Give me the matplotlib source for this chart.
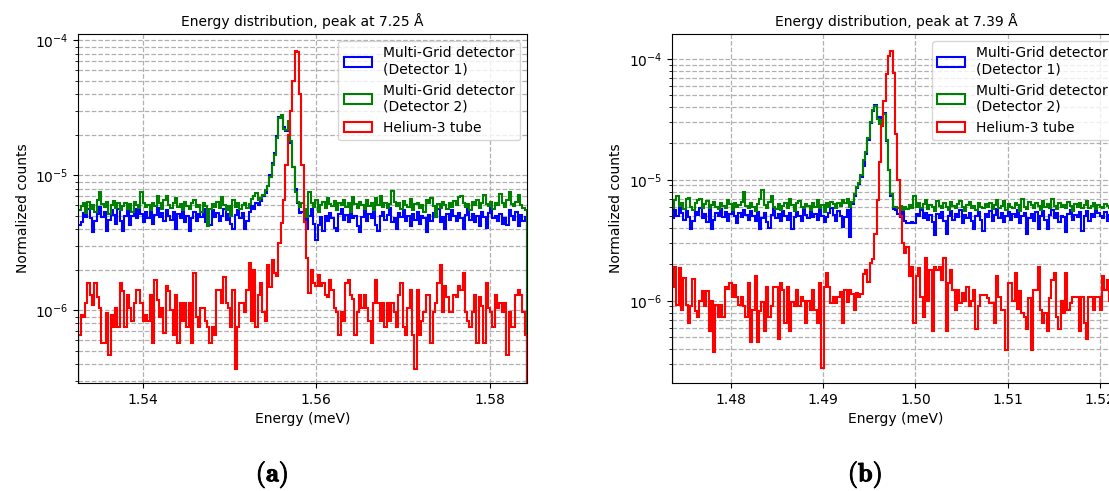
import numpy as np
import matplotlib
matplotlib.use("Agg")
import matplotlib.pyplot as plt
import matplotlib.patheffects as pe
from matplotlib.ticker import MultipleLocator, FormatStrFormatter

# Histogram values are in units of 1e-6 (normalized counts per bin)

# Panel (a): peak at 7.25 A
a_energy_range = (1.532585, 1.58426)
a_mg1 = [
    4.3, 4.5, 5.3, 4.9, 5.6, 4.8, 3.8, 4.6, 5.2, 5.8,
    4.9, 5.4, 3.9, 4.7, 5.5, 5.1, 4.4, 5.6, 4.6, 3.9,
    5.0, 5.7, 4.3, 5.0, 5.6, 4.8, 5.9, 5.2, 4.5, 5.4,
    4.8, 5.6, 4.4, 5.1, 5.7, 4.9, 5.3, 4.6, 5.5, 5.0,
    4.7, 5.4, 4.0, 5.2, 4.8, 5.6, 4.5, 5.0, 3.9, 4.8,
    5.4, 4.6, 5.2, 4.9, 5.6, 4.5, 5.1, 4.3, 5.5, 4.9,
    5.3, 4.6, 5.0, 5.6, 4.7, 5.2, 4.4, 4.0, 5.1, 5.5,
    4.8, 5.3, 4.0, 4.6, 5.4, 5.9, 5.6, 6.2, 6.0,
    # peak
    6.5, 7.0, 7.4, 8.3, 10.0, 12.3, 14.6, 19.5, 27.0, 27.5,
    23.0, 21.5, 25.0, 17.4, 11.6, 8.0, 6.2, 5.3,
    # after peak
    5.4, 4.9, 4.0, 5.0, 5.6, 4.4, 3.3, 4.3, 4.9, 3.9,
    5.0, 4.6, 5.3, 4.8, 4.1, 3.9, 5.2, 5.6, 4.7, 5.1,
    4.5, 5.4, 4.8, 5.0, 4.2, 3.8, 4.9, 5.5, 4.6, 5.2,
    4.8, 5.6, 4.3, 3.9, 5.0, 5.4, 4.7, 5.1, 5.7, 4.5,
    4.8, 4.0, 5.3, 4.9, 5.5, 4.6, 5.0, 4.2, 5.2, 4.7,
    5.4, 4.4, 5.0, 4.8, 3.8, 5.1, 4.6, 5.3, 4.9, 5.6,
    4.5, 4.9, 4.0, 5.2, 4.7, 5.5, 5.0, 4.6, 5.3, 4.8,
    4.0, 5.1, 5.6, 4.7, 5.2, 4.5, 5.0, 4.2, 5.4, 4.9,
    4.1, 5.3, 5.7, 4.8, 5.0, 4.6, 5.2, 4.4, 4.8, 4.3,
    5.5, 5.0, 4.7, 5.4, 4.2, 5.1, 4.6, 4.9,
]
a_mg2 = [
    5.5, 5.9, 6.2, 5.3, 6.4, 5.6, 6.0, 5.4, 6.6, 7.5,
    6.1, 5.8, 6.4, 5.2, 6.0, 6.5, 5.7, 6.2, 5.5, 5.9,
    6.3, 5.6, 6.1, 5.4, 6.4, 6.0, 5.7, 7.6, 6.2, 5.8,
    6.0, 5.5, 6.3, 5.9, 7.0, 6.2, 5.6, 6.6, 7.1, 6.0,
    5.7, 6.3, 6.8, 5.8, 6.1, 5.5, 6.4, 5.9, 5.6, 6.2,
    6.6, 5.8, 6.0, 5.4, 6.3, 5.9, 4.2, 5.6, 6.1, 5.8,
    6.4, 5.7, 6.9, 6.0, 5.5, 5.9, 5.0, 6.6, 5.8, 6.2,
    5.6, 6.0, 6.3, 5.7, 6.1, 6.7, 7.0, 7.4, 6.6,
    # peak
    6.8, 7.2, 7.8, 8.3, 9.8, 12.0, 14.2, 19.0, 26.5, 28.0,
    22.0, 21.7, 25.5, 18.0, 11.6, 7.6, 6.4, 5.8,
    # after peak
    6.2, 5.6, 4.9, 7.6, 6.3, 5.8, 6.6, 5.4, 6.0, 6.4,
    5.7, 6.8, 6.1, 5.9, 6.5, 5.5, 6.2, 6.0, 6.6, 5.8,
    6.3, 5.4, 6.9, 6.1, 5.7, 6.4, 6.0, 5.6, 6.6, 5.9,
    6.2, 5.5, 6.8, 6.0, 7.0, 5.8, 6.3, 5.7, 6.1, 7.7,
    6.4, 5.9, 6.2, 5.6, 6.5, 6.0, 5.8, 6.7, 5.5, 6.1,
    6.3, 5.7, 6.0, 5.4, 6.6, 6.2, 6.8, 5.9, 4.9, 6.1,
    5.7, 6.4, 6.0, 5.6, 6.2, 5.8, 6.5, 6.0, 6.9, 7.0,
    6.3, 5.8, 6.1, 5.5, 6.4, 6.0, 6.6, 5.7, 6.2, 7.2,
    6.1, 5.9, 6.4, 5.6, 6.3, 6.0, 7.3, 6.2, 5.8, 6.6,
    7.5, 6.1, 5.9, 6.4, 7.2, 6.0, 5.7, 5.5,
]
a_he3 = [
    0.66, 0.93, 0.9, 1.13, 1.6, 1.3, 1.1, 1.6, 1.25, 1.05,
    0.57, 0.57, 0.95, 0.47, 0.93, 0.76, 1.05, 0.76, 1.6, 1.4,
    0.76, 1.3, 1.05, 0.84, 1.13, 1.42, 1.42, 1.13, 0.84, 0.93,
    0.84, 1.3, 0.57, 1.68, 1.2, 0.9, 1.05, 0.68, 1.52, 1.4,
    1.0, 0.66, 1.3, 0.57, 1.13, 0.84, 1.13, 0.76, 1.13,
    0.57, 1.88, 0.9, 0.76, 1.04, 1.04, 0.84, 0.76, 0.57, 0.76,
    0.66, 1.42, 1.42, 1.13, 1.78, 1.13, 1.04, 0.76, 1.42, 0.37,
    0.76, 1.13, 1.13, 0.97, 1.42, 2.23, 0.84, 2.0, 0.76, 1.3,
    1.59, 0.97, 0.84, 2.17, 1.5, 2.36, 1.88, 1.8, 3.15, 4.42,
    6.6,
    # peak
    12.0, 20.0, 30.0, 50.0, 84.0, 82.0, 40.0, 12.0, 4.5,
    # after peak
    2.43, 1.34, 2.0, 1.59, 1.52, 1.83, 1.52, 1.59, 1.3, 1.25,
    1.68, 1.42, 1.04, 0.97, 0.66, 0.97, 0.84, 1.59, 1.68, 1.3,
    1.22, 0.66, 0.97, 1.3, 1.04, 1.3, 1.04, 0.84, 0.57, 1.13,
    1.68, 1.13, 0.84, 1.13, 0.76, 1.13, 0.84, 1.13, 0.97, 0.76,
    1.3, 1.59, 0.76, 0.66,
    1.04, 1.42, 0.66, 0.37, 1.42, 0.66, 0.84, 0.97,
    1.3, 1.3, 0.57, 0.97, 1.13, 1.59, 2.17, 0.97, 1.52, 1.25,
    0.97, 0.97, 1.3, 1.25, 1.52, 1.42, 1.88, 0.97, 0.84, 0.76,
    0.97, 1.3, 0.57, 1.25, 1.07, 0.57, 1.59, 1.04, 0.97, 0.76,
    1.3, 1.04, 1.13, 0.97, 1.13, 0.47, 0.97, 0.76, 0.76, 1.3,
    1.42, 1.3, 0.97, 0.66,
]

# Panel (b): peak at 7.39 A
b_energy_range = (1.47361, 1.52221)
b_mg1 = [
    4.8, 5.6, 5.0, 5.9, 5.3, 4.7, 5.5, 4.9, 3.9, 4.6,
    5.4, 5.1, 5.8, 4.8, 5.2, 4.5, 5.6, 3.9, 4.7, 5.3,
    5.0, 5.7, 4.9, 5.4, 4.6, 5.2, 5.8, 5.0, 4.4, 5.3,
    4.9, 5.6, 5.1, 4.7, 5.5, 5.0, 4.6, 5.4, 3.9, 4.8,
    5.3, 4.5, 4.0, 5.1, 5.7, 4.8, 5.2, 4.6, 5.5, 5.0,
    4.7, 5.3, 3.9, 4.9, 5.4, 5.0, 4.6, 5.6, 5.1, 4.8,
    5.4, 4.9, 5.2, 4.7, 5.6, 5.0, 4.5, 4.9, 5.3, 5.8,
    5.1, 4.6, 5.5, 5.0, 4.1, 4.9, 5.6, 3.4,
    # peak
    6.3, 7.4, 8.6, 9.2, 10.6, 13.0, 16.5, 21.5, 29.5, 37.0,
    41.5, 33.0, 30.0, 33.0, 36.0, 21.0, 12.0, 7.3, 5.7,
    # after peak
    5.6, 5.2, 4.9, 5.5, 4.6, 4.4, 4.4, 4.5, 4.4, 5.2,
    5.0, 5.6, 4.8, 5.3, 4.7, 5.1, 4.5, 3.5, 5.2, 4.8,
    5.4, 4.6, 3.6, 5.0, 5.5, 4.7, 5.2, 4.9, 5.6, 4.4,
    5.1, 4.8, 5.3, 4.6, 3.9, 5.0, 5.4, 4.7, 3.8, 5.2,
    4.9, 5.5, 4.6, 5.1, 5.7, 4.8, 5.3, 4.5, 5.0, 5.4,
    4.7, 5.2, 4.9, 5.6, 4.4, 5.0, 5.3, 3.6, 4.8, 5.2,
    4.6, 5.4, 3.9, 5.0, 5.5, 4.7, 3.9, 5.1, 5.6, 4.8,
    5.3, 4.5, 5.0, 4.9, 3.7, 5.2, 5.6, 4.7, 5.1, 4.9,
    5.4, 3.8, 5.0, 5.5, 4.6, 5.2, 4.9, 5.7, 5.3, 5.0,
    4.8, 5.4, 4.6, 5.1, 5.5, 4.9, 5.2, 5.0,
]
b_mg2 = [
    5.8, 6.8, 7.3, 6.1, 6.5, 5.7, 6.9, 7.1, 6.0, 5.6,
    6.4, 6.8, 7.0, 5.9, 6.3, 6.7, 5.8, 6.2, 6.6, 6.0,
    5.7, 6.5, 6.1, 5.9, 6.8, 6.3, 5.6, 6.4, 6.0, 6.2,
    6.6, 8.0, 6.1, 5.8, 6.4, 6.0, 5.5, 6.3, 6.9, 8.2,
    6.2, 5.9, 6.6, 7.4, 6.0, 5.7, 6.3, 5.6, 6.1, 6.5,
    5.8, 6.9, 6.2, 5.5, 6.4, 6.7, 6.0, 5.8, 6.3, 6.1,
    5.6, 6.5, 6.0, 6.8, 5.9, 6.2, 5.4, 6.4, 6.0, 6.6,
    6.3, 5.9, 6.5, 6.1, 6.8, 6.4, 7.0, 6.0,
    # peak
    6.6, 7.6, 8.8, 9.4, 11.0, 14.6, 17.0, 22.0, 30.0, 37.5,
    41.0, 32.0, 29.0, 31.0, 35.0, 21.5, 12.0, 7.6, 6.0,
    # after peak
    6.0, 5.8, 6.1, 5.6, 6.0, 5.7, 6.2, 5.9, 7.3, 6.0,
    6.5, 5.8, 6.3, 6.8, 5.7, 6.2, 6.0, 5.5, 6.7, 6.1,
    5.9, 6.4, 6.0, 5.6, 6.6, 6.1, 5.8, 6.3, 6.7, 6.0,
    5.5, 6.2, 6.6, 5.9, 6.1, 5.6, 6.4, 6.0, 5.8, 6.3,
    6.0, 6.5, 5.7, 6.2, 6.8, 5.9, 6.1, 6.7, 5.6, 6.3,
    6.0, 5.8, 6.4, 6.2, 5.5, 6.9, 6.0, 5.7, 6.6, 6.2,
    5.9, 6.4, 6.1, 5.6, 6.7, 6.0, 6.3, 5.8, 6.9, 6.1,
    5.7, 6.4, 6.0, 6.2, 5.8, 6.6, 6.1, 5.5, 6.3, 6.0,
    6.5, 5.9, 6.2, 6.7, 5.8, 6.1, 6.4, 5.7, 6.2, 6.0,
    5.9, 6.3, 6.1, 5.8, 6.4, 6.0, 6.2, 5.9,
]
b_he3 = [
    1.3, 1.9, 0.93, 1.85, 0.84, 1.55, 0.93, 0.65, 0.9, 1.5,
    0.82, 0.74, 1.0, 1.2, 0.9, 1.2, 0.56, 1.0, 0.38, 0.93,
    0.74, 0.93, 0.74, 1.3, 1.25, 1.4, 1.085, 1.35, 1.085, 0.93,
    1.085, 0.9, 0.74, 1.4, 0.46, 0.84, 1.59, 0.46, 0.82,
    0.98, 0.56, 1.3, 0.74, 0.9, 1.3, 1.3, 0.48, 1.4, 1.23,
    0.65, 1.3, 0.56, 0.98, 0.9, 1.23, 0.9, 1.085, 1.0, 0.65,
    1.0, 0.84, 1.23, 0.84, 0.65, 1.4, 0.28, 1.3, 1.7, 1.3,
    0.96, 1.085, 0.96, 1.085, 1.18, 0.66, 1.23, 0.98, 1.23, 1.13,
    0.84, 1.15, 1.085, 1.13, 1.65, 1.8, 1.42, 2.05, 2.2,
    # peak
    3.6, 6.8, 14.0, 28.0, 45.0, 75.0, 105.0, 117.0, 76.0, 24.0,
    10.0, 5.0, 3.0, 2.5, 2.8, 1.59, 1.92, 0.65,
    # after peak
    1.59, 1.85, 1.085, 0.74, 2.25, 1.0, 1.8, 0.56, 1.9, 1.8,
    1.9, 1.49, 2.25, 0.56, 1.40, 1.8, 1.23, 0.84, 1.23, 0.95,
    1.15, 1.0, 1.31, 0.9, 1.0, 1.23, 0.58, 0.9, 1.12, 1.12,
    1.12, 1.06, 0.96, 0.96, 0.65, 1.59, 1.085, 0.84, 0.84, 0.39,
    1.4, 1.4, 1.0, 1.7, 0.85, 1.2, 0.79, 0.74, 0.58, 1.06,
    0.39, 1.23, 1.23, 1.9, 0.84, 0.65, 0.79, 0.56, 1.06, 1.49,
    1.7, 0.74, 0.58, 1.0, 0.8, 1.7, 0.84, 0.96, 1.085, 1.085,
    1.085, 0.56, 1.085, 0.65, 0.48, 1.085, 1.085, 0.84, 1.085, 1.085,
    0.84, 1.59, 1.23, 1.49, 1.0, 1.2, 0.8, 1.1, 0.9,
]

labels = ["Multi-Grid detector\n(Detector 1)",
          "Multi-Grid detector\n(Detector 2)",
          "Helium-3 tube"]
colors = ["blue", "green", "red"]


def plot_panel(ax, energy_range, series, title, ylim, step):
    n = len(series[0])
    edges = np.linspace(energy_range[0], energy_range[1], n + 1)
    centers = 0.5 * (edges[:-1] + edges[1:])

    # Step histograms, one per detector
    for values, color, label in zip(series, colors, labels):
        ax.hist(centers, bins=edges, weights=np.array(values) * 1e-6,
                histtype="step", color=color, label=label, linewidth=1.5)

    ax.set_yscale("log")
    ax.set_xlim(edges[0], edges[-1])
    ax.set_ylim(*ylim)
    ax.xaxis.set_major_locator(MultipleLocator(step))
    ax.xaxis.set_major_formatter(FormatStrFormatter("%.2f"))
    ax.grid(True, which="both", linestyle="--", color="#b0b0b0", linewidth=0.9)
    ax.set_axisbelow(True)

    ax.set_xlabel("Energy (meV)")
    ax.set_ylabel("Normalized counts")
    ax.set_title(title, fontsize=10)
    ax.legend(loc="upper right")


fig = plt.figure(figsize=(11.09, 4.91), dpi=100)
ax_a = fig.add_axes([0.0706, 0.2200, 0.4046, 0.7108])
ax_b = fig.add_axes([0.6057, 0.2200, 0.4046, 0.7108])

plot_panel(ax_a, a_energy_range, [a_mg1, a_mg2, a_he3],
           "Energy distribution, peak at 7.25 Å", (2.9e-7, 1.117e-4), 0.02)
plot_panel(ax_b, b_energy_range, [b_mg1, b_mg2, b_he3],
           "Energy distribution, peak at 7.39 Å", (2.09e-7, 1.61e-4), 0.01)

# Sub-figure captions (bold serif, slightly thickened)
bold = [pe.withStroke(linewidth=0.7, foreground="black")]
fig.text(0.2453, 0.033, r"$\mathbf{(a)}$", fontsize=19, ha="center",
         va="center", math_fontfamily="cm", path_effects=bold)
fig.text(0.780, 0.033, r"$\mathbf{(b)}$", fontsize=19, ha="center",
         va="center", math_fontfamily="cm", path_effects=bold)

fig.savefig("out.png", dpi=100)
